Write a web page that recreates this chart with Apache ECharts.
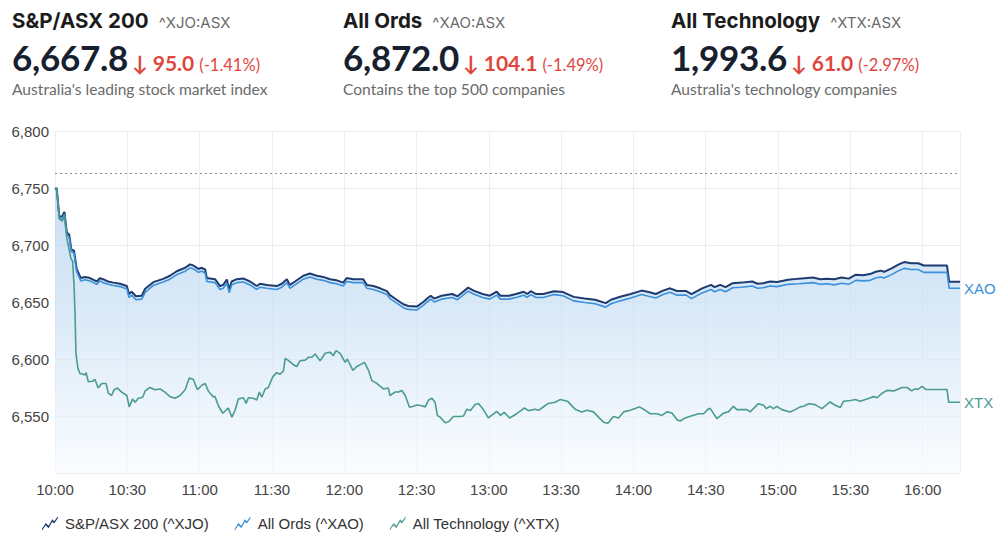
<!DOCTYPE html>
<html>
<head>
<meta charset="utf-8">
<script src="https://cdn.jsdelivr.net/npm/echarts@6/dist/echarts.min.js"></script>
<style>
  html, body { margin: 0; padding: 0; background: #fff; }
  #wrap { position: relative; width: 1000px; height: 556px; overflow: hidden; }
  #chart { position: absolute; left: 0; top: 0; width: 1000px; height: 556px; }
  .hdr { position: absolute; top: 0; white-space: nowrap; font-family: Lato, "Noto Sans", sans-serif; }
  .l1 { position: absolute; top: 9px; left: 0; line-height: 24px; }
  .l2 { position: absolute; top: 38px; left: 0; line-height: 38px; }
  .l3 { position: absolute; top: 79px; left: 0; line-height: 20px; font-size: 15.6px; color: #6b6b6b; }
  .t { font-family: Inter, Lato, sans-serif; font-size: 20.5px; font-weight: 700; color: #1c1c1c; letter-spacing: 0px; }
  .k { font-family: Inter, Lato, sans-serif; font-size: 15px; color: #6b6b6b; margin-left: 10px; }
  .p { font-size: 35px; font-weight: 700; color: #17202e; letter-spacing: -0.3px; }
  .c { font-size: 21px; font-weight: 700; color: #e0463d; margin-left: 4px; }
  .pc { font-size: 16.5px; color: #e0463d; margin-left: 5px; }
</style>
</head>
<body>
<div id="wrap">
  <div id="chart"></div>
</div>
<script>
// ---------- header data ----------
const headerNames   = ['S&P/ASX 200', 'All Ords', 'All Technology'];
const headerCodes   = ['^XJO:ASX', '^XAO:ASX', '^XTX:ASX'];
const headerPrices  = ['6,667.8', '6,872.0', '1,993.6'];
const headerChanges = ['95.0', '104.1', '61.0'];
const headerPcts    = ['(-1.41%)', '(-1.49%)', '(-2.97%)'];
const headerDescs   = ["Australia's leading stock market index", 'Contains the top 500 companies', "Australia's technology companies"];

// ---------- chart data (minutes after 10:00, plotted value) ----------
const seriesNames = ['S&P/ASX 200 (^XJO)', 'All Ords (^XAO)', 'All Technology (^XTX)'];
const endLabels = ['', 'XAO', 'XTX'];
const timeLabels = ['10:00','10:30','11:00','11:30','12:00','12:30','13:00','13:30','14:00','14:30','15:00','15:30','16:00'];
const yTickValues = [6550, 6600, 6650, 6700, 6750, 6800];
const previousClose = 6762.8;

const xjoData = [
 [0,6749],[0.7,6750],[1.8,6725],[3.0,6725],[3.9,6729],[4.9,6711],[5.9,6709],[6.8,6696],[7.9,6695],[9.0,6679],
 [10.7,6671],[12.5,6672],[14.5,6671],[17.3,6668],[18.7,6671],[19.9,6670],[22,6668],[24.2,6667],[27,6666],[29.8,6664],
 [30.7,6657],[31.8,6659],[33.6,6655],[36,6655.5],[37.4,6661.6],[40.8,6667.4],[44.9,6670.3],[47.7,6673],[50.5,6677],[54,6680],
 [56,6683],[57.4,6682],[59.5,6679],[60.9,6680],[62.3,6678.5],[63,6671],[66.4,6670],[68.5,6664],[69.8,6665],[71.3,6669.7],
 [72.3,6661],[73.3,6668],[75.4,6670],[78.1,6670.7],[80.9,6668],[83.7,6664],[85.1,6666],[87.9,6665],[92,6664],[94.1,6666],
 [96.2,6670],[97.5,6665],[99.6,6668],[103,6673],[105.8,6675],[108.6,6673],[111.3,6672],[114.1,6670],[116.9,6669],[119.6,6667],
 [121,6671],[123.8,6670],[127.9,6670],[129.4,6665],[132.1,6664],[134.9,6662],[137.7,6659.5],[139,6656],[141.8,6652],[144.5,6648],
 [146.6,6646.5],[150.1,6646],[152.8,6650],[154.4,6653],[155.9,6655.5],[157.3,6653],[160.4,6655.5],[164.8,6657],[167,6655],[169.3,6659],
 [171.4,6662.6],[173.7,6660],[177.4,6657],[180.4,6655.5],[183.3,6659],[184.8,6655.5],[188.4,6655.5],[191.3,6657],[194.5,6659],[195.9,6657],
 [197.4,6659.5],[199.6,6657],[202.5,6657],[207.1,6659.5],[210.8,6658.7],[215.2,6654.5],[219.7,6653],[224.1,6652],[228.5,6649],[230.7,6652],
 [234.5,6654.6],[238.9,6657],[243.4,6660],[246.3,6658.7],[249.3,6657],[252.3,6660],[255.2,6662],[258.1,6659.6],[261.9,6659.6],[264.1,6657],
 [268.5,6662],[272.2,6665],[273.7,6663],[276,6665],[278.2,6663],[281.2,6666.5],[284.9,6667],[289.3,6668],[291.5,6666],[293.8,6666.5],
 [296.7,6668],[299.6,6667.5],[304.2,6669.5],[308.6,6670.5],[314.5,6671.5],[317.5,6670],[320.4,6670.5],[323.3,6670],[326.4,6671.5],[329.3,6670.5],
 [332.3,6674],[335.3,6673.5],[338.2,6674.5],[340.5,6676.5],[342.6,6677.5],[344,6676.5],[347.1,6679.5],[350.1,6683],[352.3,6685],[355.2,6684],
 [358.1,6684],[360.5,6682],[370.1,6682],[371,6667.8],[375.5,6667.8]
];

const xaoData = [
 [0,6748.5],[0.7,6749],[1.8,6723],[3.0,6723],[3.9,6727],[4.9,6709],[5.9,6707],[6.8,6694],[7.9,6693],[9.0,6676.5],
 [10.7,6668.5],[12.5,6669.5],[14.5,6668.5],[17.3,6665.5],[18.7,6668.5],[19.9,6667],[22,6665.5],[24.2,6664.5],[27,6663.5],[29.8,6661.5],
 [30.7,6654],[31.8,6656],[33.6,6652],[36,6652.5],[37.4,6658.5],[40.8,6664.5],[44.9,6667.5],[47.7,6670],[50.5,6674],[54,6677],
 [56,6680],[57.4,6679],[59.5,6676],[60.9,6677],[62.3,6675.5],[63,6668],[66.4,6667],[68.5,6661],[69.8,6662],[71.3,6666.5],
 [72.3,6658],[73.3,6665],[75.4,6667],[78.1,6667.5],[80.9,6665],[83.7,6661],[85.1,6663],[87.9,6662],[92,6661],[94.1,6663],
 [96.2,6667],[97.5,6662],[99.6,6665],[103,6670],[105.8,6672],[108.6,6670],[111.3,6669],[114.1,6667],[116.9,6666],[119.6,6664],
 [121,6668],[123.8,6667],[127.9,6667],[129.4,6662],[132.1,6661],[134.9,6659],[137.7,6656.5],[139,6653],[141.8,6649],[144.5,6645],
 [146.6,6643.5],[150.1,6643],[152.8,6647],[154.4,6650],[155.9,6652.5],[157.3,6650],[160.4,6652.5],[164.8,6654],[167,6652],[169.3,6656],
 [171.4,6659.5],[173.7,6657],[177.4,6654],[180.4,6652.5],[183.3,6656],[184.8,6652.5],[188.4,6652.5],[191.3,6654],[194.5,6656],[195.9,6654],
 [197.4,6656.5],[199.6,6654],[202.5,6654],[207.1,6656.5],[210.8,6655.5],[215.2,6651],[219.7,6649.5],[224.1,6648.5],[228.5,6645.5],[230.7,6648.5],
 [234.5,6651],[238.9,6653.5],[243.4,6656.5],[246.3,6655],[249.3,6653.5],[252.3,6656.5],[255.2,6658.5],[258.1,6656],[261.9,6656],[264.1,6653],
 [268.5,6658],[272.2,6661],[273.7,6659],[276,6661],[278.2,6659],[281.2,6662.5],[284.9,6663],[289.3,6664],[291.5,6662],[293.8,6662.5],
 [296.7,6664],[299.6,6663.5],[304.2,6665.5],[308.6,6666],[314.5,6667],[317.5,6665.5],[320.4,6666],[323.3,6665],[326.4,6666.5],[329.3,6665.5],
 [332.3,6669],[335.3,6668.5],[338.2,6669],[340.5,6671],[342.6,6672],[344,6671],[347.1,6674],[350.1,6677.5],[352.3,6679.5],[355.2,6678.5],
 [358.1,6678.5],[360.5,6676],[370.1,6676],[371,6662],[375.5,6662]
];

const xtxData = [
 [0,6749],[0.7,6750],[1.8,6723],[3.0,6721],[3.9,6725],[4.9,6706],[5.5,6700],[6.6,6688],[7.3,6686],[7.9,6665],
 [8.3,6640],[8.7,6605],[9.5,6592],[10.4,6587],[11.1,6587],[12.5,6586],[12.9,6588],[13.8,6580],[15.6,6580.5],[16.6,6582],
 [17.9,6574.5],[19.4,6578.5],[21.2,6578.5],[22.1,6570],[23.5,6568],[24.5,6573],[25.9,6574.5],[27.7,6571],[29.8,6568],[30.8,6558],
 [32.2,6565],[33.2,6562],[34.6,6565.6],[36.4,6566.5],[37.4,6572],[39.4,6575],[41.5,6573],[43.6,6573.7],[45.6,6571],[47.7,6567],
 [49.8,6565.6],[51.9,6568],[54,6573],[55.7,6583.4],[57.4,6582],[59.1,6573],[60.9,6577],[62.3,6578.5],[63.6,6572],[65.5,6567],
 [66.4,6567],[67.8,6559],[69.6,6552.4],[71.9,6557],[73.4,6549],[74.7,6555],[76.1,6565],[78.2,6566],[79.3,6561],[80.2,6566],
 [82.3,6565.6],[83.7,6564],[84.8,6571],[85.8,6566.5],[87.2,6573.7],[88.5,6575],[90.4,6584.5],[92,6588],[93.4,6586.7],[94.8,6589.5],
 [95.5,6600.6],[96.9,6598.5],[98.9,6595],[100.3,6593.4],[101.7,6598.5],[103.8,6599],[105.2,6601.5],[106.6,6601.5],[107.9,6604.4],[110,6598.5],
 [112.1,6605],[114.1,6606],[115.5,6603],[116.6,6607.4],[118.3,6605],[120.4,6597],[121.3,6600],[123.6,6590],[125.2,6593.4],[127.3,6595.7],
 [128.4,6597],[130.1,6590],[131.5,6581],[133.5,6578.6],[134.6,6576.6],[136.3,6573.7],[138.3,6574.5],[139,6568],[141.1,6571],[142.5,6571],
 [143.9,6572.4],[145.3,6568],[147.1,6557.6],[148.7,6558.5],[150.1,6559.7],[152.2,6559],[153.6,6558],[155,6564],[156.4,6565.6],[157.7,6562],
 [158.7,6550.3],[159.8,6549],[161.9,6544],[163.3,6545],[165.3,6549.5],[168.1,6549.5],[169.5,6550],[170.9,6556],[172.3,6554.7],[174.3,6560],
 [175.7,6561],[177.8,6555.4],[179.8,6548.3],[183.3,6554],[184.9,6550.5],[186.4,6553.3],[188.6,6548.3],[191.6,6552],[194.7,6557],[196.5,6554.7],
 [199.2,6556],[200.6,6555],[202,6557],[204.7,6561],[207.5,6562],[209.6,6564.4],[212.6,6563],[215.8,6556],[218.6,6553.6],[220.7,6555],
 [223.4,6553.6],[225.5,6549],[227.6,6544.5],[229.4,6543.6],[231.7,6549.5],[233.8,6548.3],[235.9,6553.6],[238.6,6555],[240.7,6556.5],[242.5,6558],
 [244.9,6555],[247,6552],[249.8,6552],[251.8,6550.5],[253.9,6553.6],[256,6552.6],[258.1,6546.8],[259.4,6545.6],[261.5,6548.3],[263.6,6549.7],
 [267,6552],[269.1,6552],[271.2,6556.5],[271.9,6556.5],[274.6,6547.8],[277.4,6552.6],[279.4,6553.6],[281.5,6558.5],[282.9,6555.6],[285,6555.6],
 [287.1,6555.6],[288.4,6553.6],[291.9,6560.8],[294,6559.4],[295.1,6556.5],[296.7,6558.5],[298.1,6556.5],[299.5,6558.5],[301.6,6555.6],[305,6553.6],
 [307.1,6555.6],[309.2,6558],[310.6,6558.5],[312.7,6560.8],[315.4,6560],[318.2,6556.5],[321.6,6562.3],[323.7,6559.4],[325.8,6557.4],[327.2,6563],
 [330,6563.6],[332.1,6564.4],[334.1,6563],[336.9,6565],[339.7,6567],[341.1,6566],[343.2,6570],[345.2,6572.5],[348,6572],[351.5,6575],
 [353.6,6575],[355.4,6572],[357,6574],[358,6573.3],[359.8,6576],[361.2,6573.3],[370.1,6573.3],[370.8,6562],[375.5,6562]
];

// ---------- header (real text) ----------
const colX = [12, 343, 671];
const wrap = document.getElementById('wrap');
for (let i = 0; i < 3; i++) {
  const d = document.createElement('div');
  d.className = 'hdr';
  d.style.left = colX[i] + 'px';
  const l1 = document.createElement('div'); l1.className = 'l1';
  const t = document.createElement('span'); t.className = 't'; t.textContent = headerNames[i];
  const k = document.createElement('span'); k.className = 'k'; k.textContent = headerCodes[i];
  l1.appendChild(t); l1.appendChild(k);
  const l2 = document.createElement('div'); l2.className = 'l2';
  const p = document.createElement('span'); p.className = 'p'; p.textContent = headerPrices[i];
  const c = document.createElement('span'); c.className = 'c'; c.textContent = '\u2193 ' + headerChanges[i];
  const pc = document.createElement('span'); pc.className = 'pc'; pc.textContent = headerPcts[i];
  l2.appendChild(p); l2.appendChild(c); l2.appendChild(pc);
  const l3 = document.createElement('div'); l3.className = 'l3'; l3.textContent = headerDescs[i];
  d.appendChild(l1); d.appendChild(l2); d.appendChild(l3);
  wrap.appendChild(d);
}

// ---------- chart ----------
const colors = ['#1d3b6f', '#3a90da', '#4b9b8f'];
const legendIcon = 'path://M0,13 L4,7 L7,10 L11,3 L13,5 L17,0 L17,2 L13,7.5 L11,5.5 L7,12.5 L4,9.5 L0,15 Z';
const chart = echarts.init(document.getElementById('chart'), null, { renderer: 'svg' });

const datasets = [xjoData, xaoData, xtxData];
const series = datasets.map((data, i) => {
  const s = {
    name: seriesNames[i],
    type: 'line',
    data: data,
    showSymbol: false,
    symbol: 'none',
    animation: false,
    color: colors[i],
    lineStyle: { width: i === 0 ? 2 : 1.6, color: colors[i] },
    z: 3 + i
  };
  if (i === 0) {
    s.areaStyle = {
      color: new echarts.graphic.LinearGradient(0, 0, 0, 1, [
        { offset: 0, color: '#b3d2ef' },
        { offset: 0.4, color: '#c8dff4' },
        { offset: 1, color: '#f8fbfe' }
      ])
    };
    s.markLine = {
      silent: true,
      symbol: ['none', 'none'],
      label: { show: false },
      lineStyle: { color: '#8c8c8c', type: [2, 3], width: 1 },
      data: [{ yAxis: previousClose }]
    };
  }
  if (endLabels[i]) {
    s.endLabel = {
      show: true,
      formatter: endLabels[i],
      color: colors[i],
      fontSize: 15,
      fontFamily: 'Liberation Sans, Arial, sans-serif',
      distance: 4
    };
  }
  return s;
});

chart.setOption({
  animation: false,
  textStyle: { fontFamily: 'Liberation Sans, Arial, sans-serif' },
  grid: { left: 55, right: 40, top: 131, bottom: 83, containLabel: false },
  legend: {
    left: 37,
    top: 511,
    itemWidth: 18,
    itemHeight: 14,
    itemGap: 26,
    icon: legendIcon,
    textStyle: { fontSize: 15, color: '#333', fontFamily: 'Liberation Sans, Arial, sans-serif', padding: [0, 0, 0, 1] },
    data: seriesNames.map((n, i) => ({ name: n, itemStyle: { color: colors[i] } }))
  },
  xAxis: {
    type: 'value',
    min: 0,
    max: 375.5,
    interval: 30,
    axisLine: { show: false },
    axisTick: { show: false },
    splitLine: { show: true, lineStyle: { color: '#eaedf1', width: 1 } },
    axisLabel: {
      margin: 9,
      fontSize: 15,
      color: '#444',
      showMaxLabel: false,
      formatter: v => (v % 30 === 0 ? timeLabels[v / 30] : '')
    }
  },
  yAxis: {
    type: 'value',
    min: 6500,
    max: 6800,
    interval: 50,
    axisLine: { show: false },
    axisTick: { show: false },
    splitLine: { show: true, lineStyle: { color: '#eaedf1', width: 1 } },
    axisLabel: {
      margin: 6,
      fontSize: 15,
      color: '#444',
      showMinLabel: false,
      formatter: v => (yTickValues.indexOf(v) >= 0 ? v.toLocaleString('en-US') : '')
    }
  },
  series: series
});
</script>
</body>
</html>
